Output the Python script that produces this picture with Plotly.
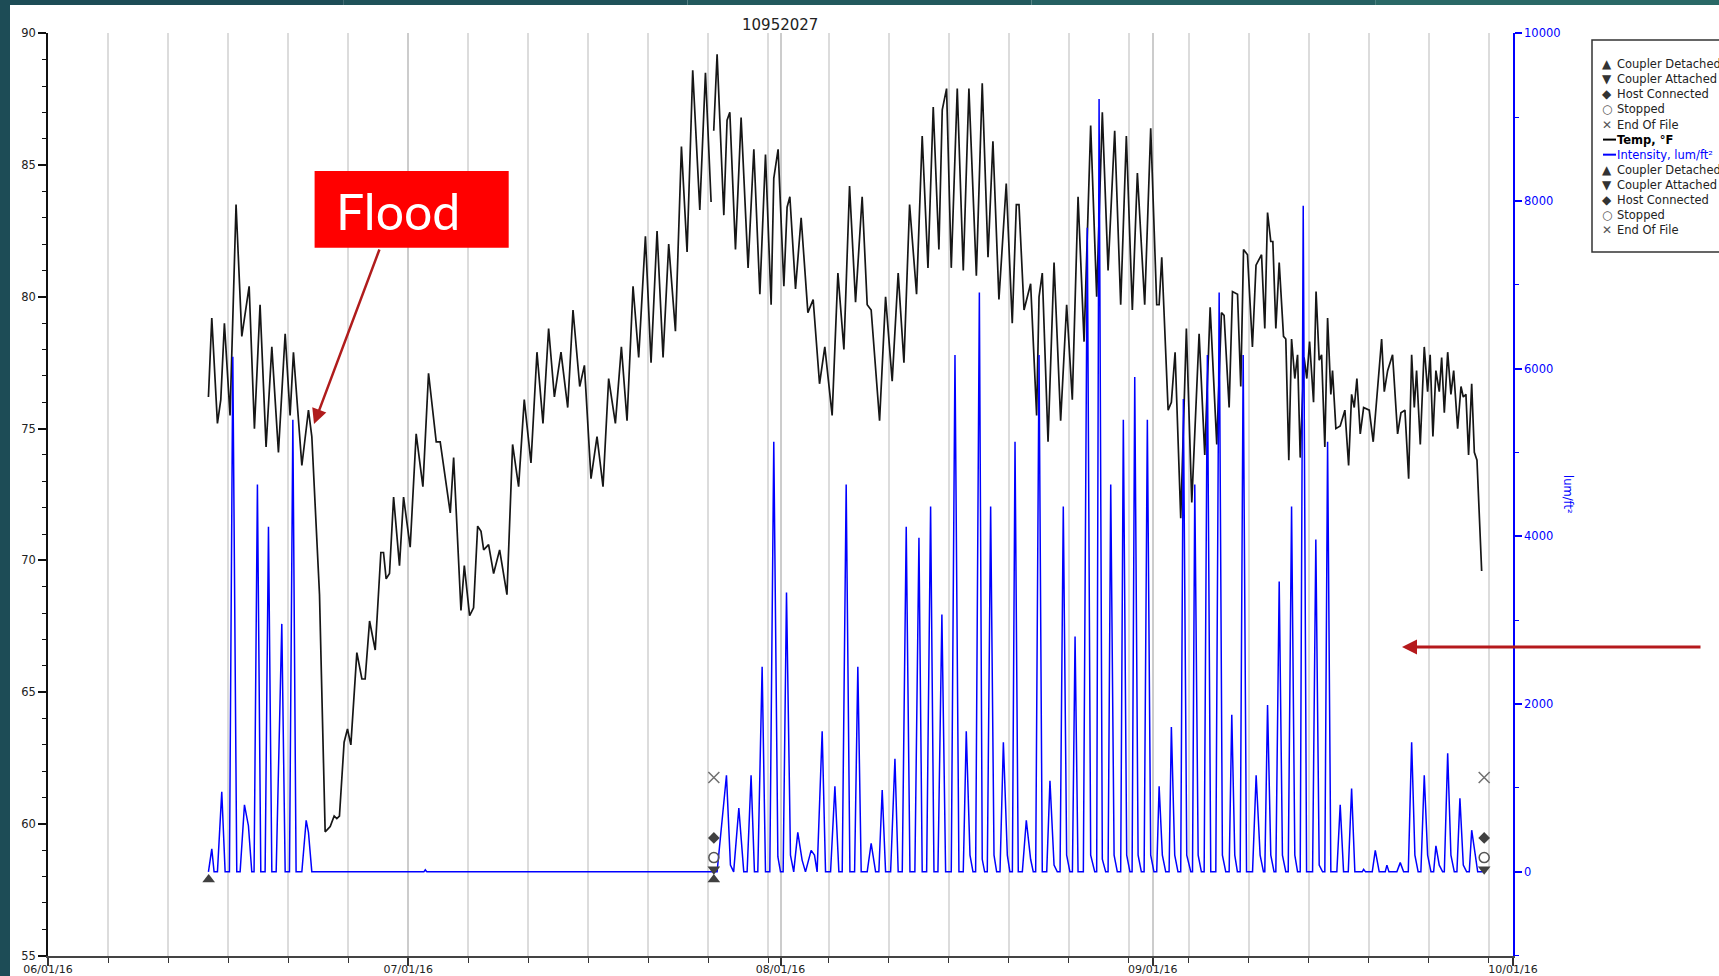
import pandas as pd
import plotly.graph_objects as go

# ---------------- data (days since 06/01/16) ----------------
temp1_day = [13.36, 13.64, 14.11, 14.39, 14.69, 15.16, 15.66, 16.14, 16.75, 17.19,
             17.66, 18.16, 18.64, 19.19, 19.75, 20.16, 20.44, 21.14, 21.69, 21.97,
             22.61, 23.08, 23.5, 23.83, 24.05, 24.27, 24.66, 24.94, 25.22, 25.72,
             26.14, 26.41, 26.78, 27.25, 27.72, 27.94, 28.16, 28.44, 28.78, 29.27,
             29.61, 30.16, 30.66, 31.22, 31.69, 32.33, 32.66, 33.5, 33.78, 34.39,
             34.67, 35.11, 35.44, 35.78, 36.06, 36.28, 36.69, 37.11, 37.61, 38.22,
             38.69, 39.19, 39.66, 40.22, 40.72, 41.22, 41.69, 42.17, 42.72, 43.28,
             43.72, 44.28, 44.67, 45.22, 45.72, 46.22, 46.69, 47.25, 47.75, 48.22,
             48.72, 49.19, 49.75, 50.22, 50.72, 51.22, 51.69, 52.25, 52.75, 53.22,
             53.69, 54.28, 54.75, 55.22]
temp1_f = [76.2, 79.2, 75.2, 76.1, 79.0, 75.5, 83.5, 78.5, 80.4, 75.0,
           79.7, 74.3, 78.1, 74.1, 78.6, 75.5, 77.9, 73.6, 75.7, 74.7,
           68.7, 59.7, 59.9, 60.3, 60.2, 60.3, 63.1, 63.6, 63.0, 66.5,
           65.5, 65.5, 67.7, 66.6, 70.3, 70.3, 69.3, 69.5, 72.4, 69.8,
           72.4, 70.5, 74.8, 72.8, 77.1, 74.5, 74.5, 71.8, 73.9, 68.1,
           69.8, 67.9, 68.2, 71.3, 71.1, 70.4, 70.6, 69.5, 70.4, 68.7,
           74.4, 72.8, 76.1, 73.7, 77.9, 75.2, 78.8, 76.2, 77.9, 75.8,
           79.5, 76.6, 77.4, 73.1, 74.7, 72.8, 76.9, 75.2, 78.1, 75.3,
           80.4, 77.7, 82.3, 77.5, 82.5, 77.7, 82.0, 78.7, 85.7, 81.7,
           88.6, 83.3, 88.5, 83.6]

temp2_day = [55.44, 55.72, 56.28, 56.55, 56.78, 57.25, 57.72, 58.3, 58.78, 59.28,
             59.75, 60.22, 60.44, 60.8, 61.28, 61.55, 61.78, 62.25, 62.72, 63.28,
             63.72, 64.25, 64.69, 65.3, 65.78, 66.28, 66.75, 67.25, 67.8, 68.22,
             68.55, 69.25, 69.75, 70.3, 70.8, 71.28, 71.75, 72.33, 72.8, 73.28,
             73.72, 74.19, 74.47, 74.83, 75.22, 75.72, 76.22, 76.69, 77.31, 77.8,
             78.28, 78.69, 79.19, 79.8, 80.3, 80.64, 80.86, 81.28, 81.83, 82.33,
             82.53, 82.8, 83.28, 83.78, 84.33, 84.83, 85.3, 85.78, 86.28, 86.83,
             87.33, 87.8, 88.28, 88.83, 89.33, 89.8, 90.3, 90.72, 91.33, 91.83,
             92.33, 92.53, 92.75, 93.28, 93.55, 93.86, 94.33, 94.8, 95.25, 95.86,
             96.33, 96.78, 97.33, 97.72, 97.94, 98.36, 98.64, 99.06, 99.33, 99.56,
             99.89, 100.3, 100.6, 101.06, 101.33, 101.56, 101.83, 102.0, 102.25, 102.53,
             102.89, 103.08, 103.33, 103.56, 103.83, 104.06, 104.28, 104.6, 104.83, 105.06,
             105.39, 105.6, 105.86, 106.06, 106.33, 106.56, 106.83, 106.97, 107.25, 107.61,
             108.0, 108.31, 108.56, 108.78, 109.0, 109.28, 109.56, 110.03, 110.36, 110.72,
             111.06, 111.28, 111.56, 111.97, 112.39, 112.67, 113.0, 113.31, 113.56, 113.78,
             113.97, 114.28, 114.61, 114.89, 115.1, 115.33, 115.58, 115.86, 116.06, 116.28,
             116.56, 116.83, 117.06, 117.39, 117.67, 117.86, 118.08, 118.3, 118.56, 118.78,
             119.0, 119.39]
temp2_f = [86.3, 89.2, 83.1, 86.7, 87.0, 81.8, 86.8, 81.1, 85.6, 80.1,
           85.4, 79.7, 84.5, 85.6, 80.4, 83.4, 83.8, 80.3, 83.0, 79.4,
           79.9, 76.7, 78.1, 75.5, 80.9, 78.0, 84.2, 79.8, 83.8, 79.7,
           79.5, 75.3, 80.0, 76.8, 80.9, 77.5, 83.5, 80.1, 86.1, 81.1,
           87.2, 81.8, 87.1, 87.9, 81.1, 87.9, 81.0, 87.9, 80.8, 88.1,
           81.5, 85.9, 79.9, 84.3, 79.0, 83.5, 83.5, 79.5, 80.5, 75.5,
           80.0, 80.9, 74.5, 81.3, 75.3, 79.7, 76.1, 83.8, 78.3, 86.5,
           80.0, 87.0, 81.0, 86.3, 79.7, 86.1, 79.5, 84.7, 79.7, 86.4,
           79.7, 79.7, 81.5, 75.7, 76.0, 77.9, 71.6, 78.8, 72.2, 78.6,
           74.0, 79.6, 74.4, 79.4, 79.3, 75.8, 80.2, 80.1, 76.6, 81.8,
           81.6, 78.1, 81.2, 81.6, 78.8, 83.2, 82.1, 82.1, 78.8, 81.3,
           78.5, 78.4, 73.8, 78.4, 76.9, 77.8, 73.9, 77.7, 76.9, 78.3,
           76.0, 80.2, 77.6, 77.8, 74.3, 79.2, 76.3, 77.2, 75.0, 75.1,
           75.7, 73.6, 76.3, 75.8, 76.9, 74.8, 75.8, 75.7, 74.5, 76.5,
           78.4, 76.4, 77.2, 77.8, 74.8, 75.6, 75.7, 73.1, 77.8, 75.8,
           77.2, 74.4, 78.1, 76.4, 77.8, 74.7, 77.2, 76.4, 77.7, 75.6,
           77.9, 76.3, 77.2, 75.0, 76.6, 76.2, 76.3, 74.0, 76.7, 74.1,
           73.8, 69.6]

light_day = [13.36, 13.64, 13.83, 14.11, 14.47, 14.75, 15.11, 15.39, 15.72, 16.0,
             16.36, 16.69, 16.97, 17.16, 17.44, 17.72, 18.08, 18.36, 18.64, 19.0,
             19.47, 19.75, 20.11, 20.39, 20.66, 21.14, 21.5, 21.69, 21.97, 31.3,
             31.42, 31.55, 55.45, 55.72, 56.5, 56.83, 57.1, 57.53, 57.94, 58.22,
             58.55, 58.83, 59.11, 59.47, 59.75, 60.11, 60.44, 60.78, 61.0, 61.22,
             61.5, 61.83, 62.1, 62.44, 62.8, 63.08, 63.55, 63.83, 64.05, 64.47,
             64.75, 65.17, 65.53, 65.86, 66.14, 66.47, 66.78, 67.17, 67.44, 67.72,
             68.22, 68.55, 68.92, 69.19, 69.47, 69.75, 70.17, 70.53, 70.8, 71.14,
             71.47, 71.78, 72.19, 72.53, 72.8, 73.17, 73.5, 73.78, 74.11, 74.44,
             74.75, 75.22, 75.53, 75.86, 76.22, 76.47, 76.78, 77.03, 77.25, 77.56,
             77.8, 78.0, 78.22, 78.5, 78.78, 79.0, 79.28, 79.56, 79.89, 80.1,
             80.31, 80.53, 80.8, 81.14, 81.47, 81.83, 82.05, 82.25, 82.53, 82.8,
             83.17, 83.44, 83.78, 84.05, 84.28, 84.55, 84.83, 85.1, 85.31, 85.53,
             85.78, 86.22, 86.55, 86.83, 87.17, 87.33, 87.53, 87.8, 88.08, 88.28,
             88.5, 88.78, 89.05, 89.33, 89.55, 89.83, 90.1, 90.28, 90.5, 90.78,
             91.05, 91.28, 91.55, 91.83, 92.1, 92.33, 92.53, 92.8, 93.08, 93.36,
             93.55, 93.83, 94.1, 94.33, 94.55, 94.83, 95.17, 95.31, 95.5, 95.78,
             96.05, 96.28, 96.55, 96.83, 97.25, 97.53, 97.8, 98.08, 98.36, 98.58,
             98.83, 99.05, 99.28, 99.53, 99.81, 100.31, 100.61, 100.94, 101.22, 101.33,
             101.56, 101.83, 102.1, 102.25, 102.53, 102.8, 103.08, 103.28, 103.56, 103.83,
             104.06, 104.28, 104.53, 104.81, 105.31, 105.58, 105.86, 106.14, 106.33, 106.56,
             106.83, 107.33, 107.61, 107.89, 108.28, 108.56, 108.83, 109.44, 109.56, 109.72,
             110.28, 110.53, 110.86, 111.36, 111.5, 111.67, 112.33, 112.61, 112.89, 113.28,
             113.56, 113.83, 114.1, 114.33, 114.61, 114.89, 115.17, 115.39, 115.58, 115.86,
             116.14, 116.28, 116.56, 116.83, 117.11, 117.33, 117.58, 117.86, 118.14, 118.36,
             118.56, 118.83, 119.06, 119.47]
light_val = [0, 275, 0, 0, 955, 0, 0, 6143, 0, 0,
             799, 550, 0, 0, 4619, 0, 0, 4115, 0, 0,
             2957, 0, 0, 5390, 0, 0, 615, 470, 0, 0,
             25, 0, 0, 0, 1152, 80, 0, 760, 0, 0,
             1152, 0, 0, 2447, 0, 0, 5129, 180, 0, 0,
             3330, 200, 0, 471, 140, 0, 256, 200, 0, 1675,
             0, 0, 1021, 0, 0, 4619, 0, 0, 2447, 0,
             0, 340, 0, 0, 975, 0, 0, 1348, 0, 0,
             4115, 0, 0, 3984, 0, 0, 4357, 0, 0, 3068,
             0, 0, 6163, 0, 0, 1675, 200, 0, 0, 6908,
             150, 0, 0, 4357, 200, 0, 0, 1544, 200, 0,
             0, 5129, 0, 0, 615, 150, 0, 0, 6163, 0,
             0, 1086, 80, 0, 0, 4357, 200, 0, 0, 2807,
             0, 0, 7680, 200, 0, 0, 9217, 150, 0, 0,
             4619, 200, 0, 0, 5390, 200, 0, 0, 5901, 200,
             0, 0, 5390, 200, 0, 0, 1021, 200, 0, 0,
             1727, 200, 0, 0, 5639, 200, 0, 0, 4619, 200,
             0, 0, 6163, 0, 0, 6908, 200, 0, 0, 1872,
             200, 0, 0, 6163, 0, 0, 1152, 200, 0, 0,
             1989, 200, 0, 0, 3461, 200, 0, 0, 4357, 200,
             0, 0, 7942, 0, 0, 3964, 80, 0, 0, 5129,
             0, 0, 799, 0, 0, 994, 0, 0, 30, 0,
             0, 256, 0, 0, 80, 0, 0, 110, 0, 0,
             1544, 200, 0, 0, 1152, 200, 0, 0, 310, 80,
             0, 0, 1413, 200, 0, 0, 877, 80, 0, 0,
             497, 200, 0, 0]

# logger events (day, level on the lum/ft² axis)
detached_day = [13.38, 55.45]
detached_lvl = [-90, -90]
attached_day = [55.45, 119.6]
attached_lvl = [30, 30]
host_day = [55.45, 119.6]
host_lvl = [405, 405]
stopped_day = [55.45, 119.6]
stopped_lvl = [170, 170]
eof_day = [55.45, 119.6]
eof_lvl = [1126, 1126]

month_ticks = ["2016-06-01", "2016-07-01", "2016-08-01", "2016-09-01", "2016-10-01"]
month_labels = ["06/01/16", "07/01/16", "08/01/16", "09/01/16", "10/01/16"]
light_ticks = [0, 2000, 4000, 6000, 8000, 10000]
light_labels = ["0", "2000", "4000", "6000", "8000", "10000"]
light_minor = [-1000, 1000, 3000, 5000, 7000, 9000]

legend_items = ["Coupler Detached", "Coupler Attached", "Host Connected", "Stopped", "End Of File",
                "Temp, °F", "Intensity, lum/ft²",
                "Coupler Detached", "Coupler Attached", "Host Connected", "Stopped", "End Of File"]
legend_syms = ["▲", "▼", "◆", "○", "✕", None, None, "▲", "▼", "◆", "○", "✕"]

# ---------------- helpers ----------------
W, H = 1719, 976
BASE = pd.Timestamp("2016-06-01")
FONT = "DejaVu Sans"


def to_dates(days):
    return [BASE + pd.Timedelta(days=d) for d in days]


def px(x):
    return x / W


def py(y):
    return 1 - y / H


grid_days = pd.date_range("2016-06-06", "2016-09-30", freq="5D").strftime("%Y-%m-%d").tolist()

fig = go.Figure()

fig.add_trace(go.Scatter(
    x=to_dates(temp1_day) + [None] + to_dates(temp2_day),
    y=temp1_f + [None] + temp2_f,
    mode="lines", line=dict(color="#161616", width=1.7),
    connectgaps=False, showlegend=False, hoverinfo="skip"))

fig.add_trace(go.Scatter(
    x=to_dates(light_day), y=light_val, yaxis="y2",
    mode="lines", line=dict(color="#0000ff", width=1.5),
    showlegend=False, hoverinfo="skip"))

ev_specs = [
    (detached_day, detached_lvl, dict(symbol="triangle-up", size=11, color="#404040")),
    (attached_day, attached_lvl, dict(symbol="triangle-down", size=11, color="#404040")),
    (host_day, host_lvl, dict(symbol="diamond", size=9, color="#404040")),
    (stopped_day, stopped_lvl, dict(symbol="circle-open", size=10, color="#555555", line=dict(width=1.5))),
    (eof_day, eof_lvl, dict(symbol="x-thin-open", size=11, color="#707070", line=dict(width=1.5, color="#707070"))),
]
for d, lv, mk in ev_specs:
    fig.add_trace(go.Scatter(x=to_dates(d), y=lv, yaxis="y2", mode="markers",
                             marker=mk, showlegend=False, hoverinfo="skip"))

tickfont = dict(family=FONT, size=11.5, color="#222222")

fig.update_layout(
    width=W, height=H,
    margin=dict(l=0, r=0, t=0, b=0, autoexpand=False),
    paper_bgcolor="white", plot_bgcolor="white",
    showlegend=False,
    xaxis=dict(
        type="date", domain=[px(48), px(1513)],
        range=[BASE, pd.Timestamp("2016-10-01")],
        tickmode="array", tickvals=month_ticks, ticktext=month_labels,
        ticks="outside", ticklen=8, tickwidth=1.5, tickcolor="#333333",
        ticklabelstandoff=-6,
        showline=True, linecolor="#444444", linewidth=2,
        showgrid=True, gridcolor="#cccccc", gridwidth=1.5, zeroline=False,
        tickfont=dict(family=FONT, size=11, color="#222222"), fixedrange=True,
        minor=dict(tickmode="array", tickvals=grid_days, ticks="outside", ticklen=5,
                   tickwidth=1.2, tickcolor="#333333", showgrid=True,
                   gridcolor="#dcdcdc", gridwidth=1.5),
    ),
    yaxis=dict(
        domain=[py(955.7), py(33.3)], range=[55, 90],
        tickmode="linear", tick0=55, dtick=5,
        ticks="outside", ticklen=8, tickwidth=1.5, tickcolor="#111111",
        showline=True, linecolor="#111111", linewidth=1.5,
        showgrid=False, zeroline=False, tickfont=tickfont, fixedrange=True,
        minor=dict(tick0=55, dtick=1, ticks="outside", ticklen=4, tickwidth=1.2,
                   tickcolor="#111111", showgrid=False),
    ),
    yaxis2=dict(
        overlaying="y", side="right", anchor="x", range=[-1000, 10000],
        tickmode="array", tickvals=light_ticks, ticktext=light_labels,
        ticks="outside", ticklen=7, tickwidth=1.5, tickcolor="#0000ff",
        showline=True, linecolor="#0000ff", linewidth=1.5,
        showgrid=False, zeroline=False, fixedrange=True,
        tickfont=dict(family=FONT, size=11.5, color="#0000ff"),
        minor=dict(tickmode="array", tickvals=light_minor, ticks="outside", ticklen=4,
                   tickwidth=1.2, tickcolor="#0000ff", showgrid=False),
    ),
)

shapes = []
# slide frame (teal)
shapes.append(dict(type="rect", xref="paper", yref="paper", x0=0, x1=px(10), y0=0, y1=1,
                   fillcolor="#1d4c56", line=dict(width=0), layer="above"))
top_cols = ["#1d4c56", "#1f5259", "#22595d", "#256062", "#2a6866"]
for i, c in enumerate(top_cols):
    shapes.append(dict(type="rect", xref="paper", yref="paper",
                       x0=i / len(top_cols), x1=(i + 1) / len(top_cols), y0=py(5), y1=1,
                       fillcolor=c, line=dict(width=0), layer="above"))
# Flood box
shapes.append(dict(type="rect", xref="paper", yref="paper", x0=px(314.6), x1=px(508.7),
                   y0=py(247.8), y1=py(171), fillcolor="#ff0000", line=dict(width=0)))
# legend box
shapes.append(dict(type="rect", xref="paper", yref="paper", x0=px(1592), x1=px(1740),
                   y0=py(252), y1=py(40), fillcolor="white",
                   line=dict(color="#333333", width=1.5)))

annotations = []
annotations.append(dict(text="10952027", xref="paper", yref="paper", x=px(780), y=py(25),
                        showarrow=False, font=dict(family=FONT, size=15, color="#222222"),
                        xanchor="center", yanchor="middle"))
annotations.append(dict(text="lum/ft²", xref="paper", yref="paper", x=px(1568), y=py(494),
                        showarrow=False, textangle=90,
                        font=dict(family=FONT, size=11.5, color="#0000ff"),
                        xanchor="center", yanchor="middle"))
annotations.append(dict(text="Flood", xref="paper", yref="paper", x=px(398), y=py(211),
                        showarrow=False, font=dict(family="Lato", size=50, color="white"),
                        xanchor="center", yanchor="middle"))
# arrows
annotations.append(dict(text="", xref="paper", yref="paper", x=px(314), y=py(424),
                        ax=66, ay=-176, showarrow=True, arrowhead=2, arrowsize=1.2,
                        arrowwidth=2.5, arrowcolor="#b01c1c", standoff=0))
annotations.append(dict(text="", xref="paper", yref="paper", x=px(1402), y=py(647),
                        ax=300, ay=0, showarrow=True, arrowhead=2, arrowsize=1.0,
                        arrowwidth=3, arrowcolor="#b5191c", standoff=0))

# legend rows
for i, (lab, sym) in enumerate(zip(legend_items, legend_syms)):
    yrow = 64.3 + 15.06 * i
    if sym is None:
        col = "#000000" if i == 5 else "#0000ff"
        shapes.append(dict(type="line", xref="paper", yref="paper", x0=px(1603), x1=px(1616),
                           y0=py(yrow), y1=py(yrow), line=dict(color=col, width=2)))
        txt = "<b>" + lab + "</b>" if i == 5 else lab
        annotations.append(dict(text=txt, xref="paper", yref="paper", x=px(1615), y=py(yrow),
                                showarrow=False, xanchor="left", yanchor="middle",
                                font=dict(family=FONT, size=11.5, color=col)))
    else:
        scol = "#555555" if sym in ("○", "✕") else "#333333"
        annotations.append(dict(text=sym, xref="paper", yref="paper", x=px(1607), y=py(yrow),
                                showarrow=False, xanchor="center", yanchor="middle",
                                font=dict(family=FONT, size=12, color=scol)))
        annotations.append(dict(text=lab, xref="paper", yref="paper", x=px(1615), y=py(yrow),
                                showarrow=False, xanchor="left", yanchor="middle",
                                font=dict(family=FONT, size=11.5, color="#222222")))

fig.update_layout(shapes=shapes, annotations=annotations)

fig.write_html("out.html", config={"displayModeBar": False},
               post_script="document.body.style.margin='0';document.body.style.overflow='hidden';")
